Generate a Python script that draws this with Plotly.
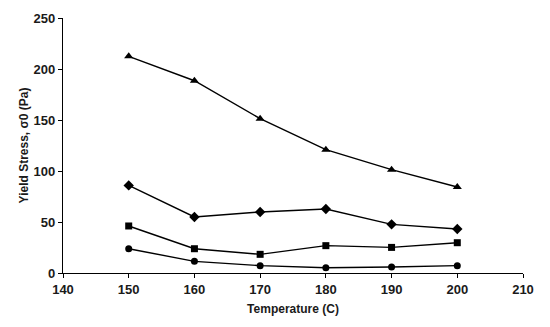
import plotly.graph_objects as go

temperature = [150, 160, 170, 180, 190, 200]
series_triangle = [212.4, 188.5, 151.3, 120.9, 101.3, 84.3]
series_diamond = [85.9, 54.9, 59.8, 62.7, 47.7, 43.1]
series_square = [46.1, 23.8, 18.3, 26.8, 25.1, 29.7]
series_circle = [23.8, 11.4, 7.2, 5.2, 5.9, 7.2]

x_ticks = [140, 150, 160, 170, 180, 190, 200, 210]
y_ticks = [0, 50, 100, 150, 200, 250]

fig = go.Figure()
for vals, sym, sz in [(series_triangle, "triangle-up", 8), (series_diamond, "diamond", 8),
                      (series_square, "square", 7), (series_circle, "circle", 7)]:
    fig.add_trace(go.Scatter(x=temperature, y=vals, mode="lines+markers",
                             line=dict(color="black", width=1.4),
                             marker=dict(symbol=sym, size=sz, color="black"),
                             showlegend=False))

tickfont = dict(family="Liberation Sans, Arial, sans-serif", size=13, color="#1a1a1a", weight="bold")
titlefont = dict(family="Liberation Sans, Arial, sans-serif", size=12, color="#1a1a1a", weight="bold")
fig.update_layout(
    width=542, height=319,
    margin=dict(l=55, r=27, t=10, b=54, autoexpand=False),
    paper_bgcolor="white", plot_bgcolor="white",
    xaxis=dict(range=[140, 210], tickvals=x_ticks, showgrid=False, zeroline=False,
               showline=True, linecolor="black", linewidth=1.2, ticks="outside",
               ticklen=4, tickcolor="black", tickfont=tickfont,
               title=dict(text="Temperature (C)", font=titlefont, standoff=8)),
    yaxis=dict(range=[0, 250], tickvals=y_ticks, showgrid=False, zeroline=False,
               showline=True, linecolor="black", linewidth=1.2, ticks="outside",
               ticklen=4, tickcolor="black", tickfont=tickfont,
               title=dict(text="Yield Stress, σ0 (Pa)", font=titlefont, standoff=2)),
)
fig.write_html("out.html")
